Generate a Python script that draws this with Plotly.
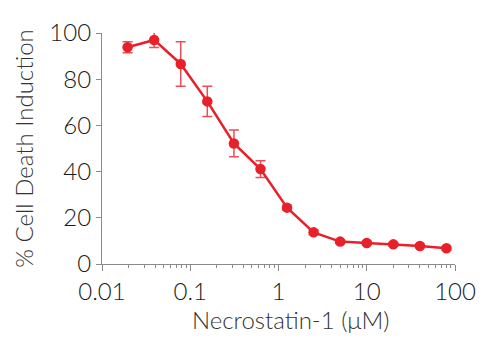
import plotly.graph_objects as go

conc = [0.0195, 0.039, 0.078, 0.156, 0.3125, 0.625, 1.25, 2.5, 5, 10, 20, 40, 80]
death = [93.8, 97.0, 86.6, 70.4, 52.2, 41.1, 24.4, 13.7, 9.7, 9.1, 8.5, 7.8, 6.8]
err = [2.4, 3.3, 9.6, 6.5, 5.8, 3.6, 1.0, 1.0, 0.8, 0.8, 0.8, 0.8, 0.8]

red = "#E8202A"
font_fam = "Lato"

fig = go.Figure()
fig.add_trace(go.Scatter(
    x=conc, y=death, mode="lines+markers",
    line=dict(color=red, width=2.5),
    marker=dict(color=red, size=10.5),
    error_y=dict(type="data", array=err, visible=True,
                 color="rgba(232,32,42,0.8)", thickness=1.5, width=5),
))

axis_common = dict(
    showgrid=False, zeroline=False, showline=True,
    linecolor="#8a8a8a", linewidth=1.2,
    ticks="outside", tickcolor="#8a8a8a", ticklen=6, tickwidth=1.2,
    tickfont=dict(family=font_fam, size=24, color="#1a1a1a", weight=300),
)

fig.update_xaxes(
    type="log", range=[-2, 2],
    tickvals=[0.01, 0.1, 1, 10, 100], ticktext=["0.01", "0.1", "1", "10", "100"],
    minor=dict(ticks="outside", ticklen=3, tickcolor="#8a8a8a", tickwidth=1,
               tickvals=[m * 10 ** e for e in range(-2, 2) for m in range(2, 10)]),
    **axis_common,
)
fig.update_yaxes(
    range=[0, 100], tickvals=[0, 20, 40, 60, 80, 100], ticklen=5,
    title=dict(text="% Cell Death Induction", font=dict(family=font_fam, size=24, color="#333", weight=300), standoff=8),
    **{k: v for k, v in axis_common.items() if k != "ticklen"},
)

fig.add_annotation(
    text="Necrostatin-1 (μM)", xref="paper", yref="paper",
    x=0.534, y=-0.24, xanchor="center", yanchor="middle", showarrow=False,
    font=dict(family=font_fam, size=24, color="#333", weight=300),
)

fig.update_layout(
    width=500, height=342,
    margin=dict(l=102, r=45, t=33, b=78),
    plot_bgcolor="white", paper_bgcolor="white",
    showlegend=False,
)
fig.write_html("out.html")
